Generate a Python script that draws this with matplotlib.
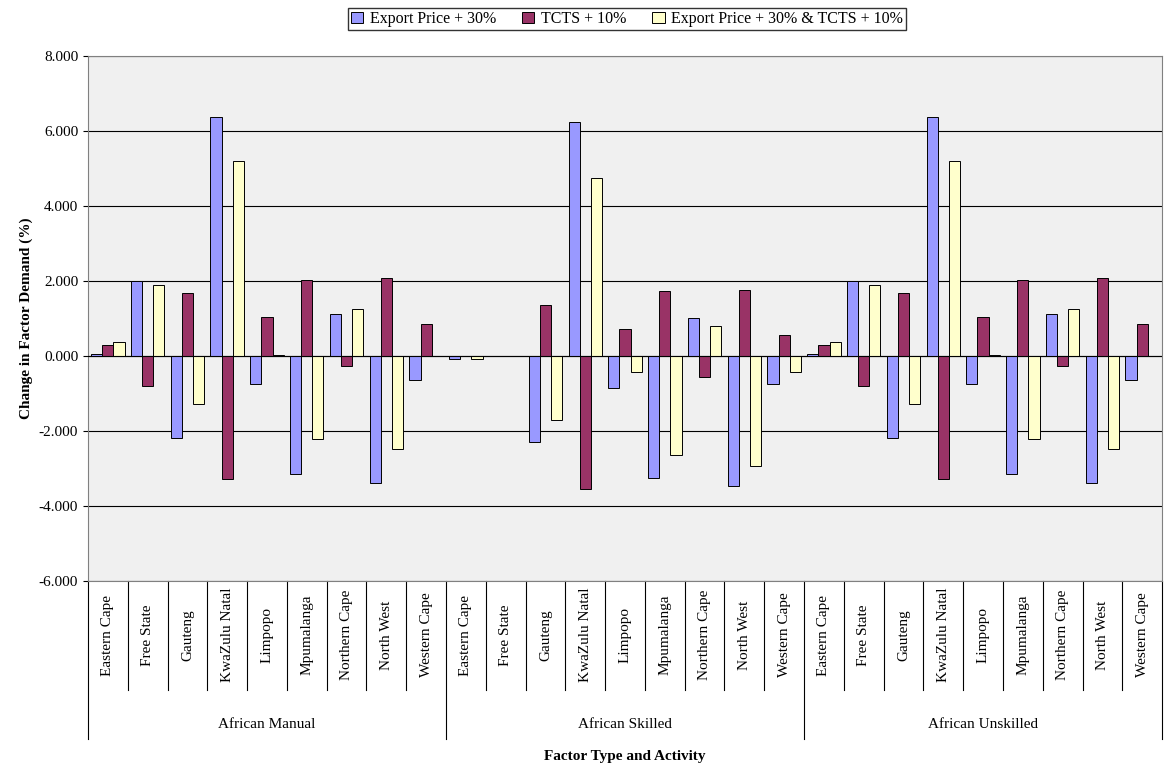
import numpy as np
import matplotlib
matplotlib.use('Agg')
import matplotlib.pyplot as plt
from matplotlib.ticker import FormatStrFormatter

plt.rcParams['font.family'] = ['Liberation Serif', 'DejaVu Serif']

provinces = ['Eastern Cape', 'Free State', 'Gauteng', 'KwaZulu Natal', 'Limpopo',
             'Mpumalanga', 'Northern Cape', 'North West', 'Western Cape']
groups = ['African Manual', 'African Skilled', 'African Unskilled']

ep_manual = [0.05, 2.00, -2.18, 6.37, -0.75, -3.15, 1.13, -3.38, -0.63]
tc_manual = [0.30, -0.80, 1.67, -3.27, 1.03, 2.02, -0.27, 2.07, 0.85]
both_manual = [0.37, 1.88, -1.28, 5.20, 0.03, -2.22, 1.25, -2.48, 0.00]

ep_skilled = [-0.08, 0.0, -2.30, 6.25, -0.85, -3.25, 1.02, -3.47, -0.75]
tc_skilled = [0.0, 0.0, 1.37, -3.55, 0.72, 1.72, -0.57, 1.77, 0.55]
both_skilled = [-0.08, 0.0, -1.72, 4.75, -0.42, -2.65, 0.80, -2.93, -0.43]

ep_unskilled = [0.05, 2.00, -2.18, 6.37, -0.75, -3.15, 1.13, -3.38, -0.63]
tc_unskilled = [0.30, -0.80, 1.67, -3.27, 1.03, 2.02, -0.27, 2.07, 0.85]
both_unskilled = [0.37, 1.88, -1.28, 5.20, 0.03, -2.22, 1.25, -2.48, 0.00]

ep = ep_manual + ep_skilled + ep_unskilled
tc = tc_manual + tc_skilled + tc_unskilled
both = both_manual + both_skilled + both_unskilled
labels = provinces * 3

fig = plt.figure(figsize=(11.65, 7.66), dpi=100)
ax = fig.add_axes([0.0755, 0.2415, 0.922, 0.6855])
ax.set_facecolor('#F0F0F0')

x = np.arange(len(labels))
w = 0.28
ax.bar(x - w, ep, w, color='#9999FF', edgecolor='black', linewidth=0.7, label='Export Price + 30%', zorder=3)
ax.bar(x, tc, w, color='#993366', edgecolor='black', linewidth=0.7, label='TCTS + 10%', zorder=3)
ax.bar(x + w, both, w, color='#FFFFCC', edgecolor='black', linewidth=0.7, label='Export Price + 30% & TCTS + 10%', zorder=3)

ax.set_xlim(-0.5, len(labels) - 0.5)
ax.set_ylim(-6, 8)
ax.set_yticks(np.arange(-6, 9, 2))
ax.yaxis.set_major_formatter(FormatStrFormatter('%.3f'))
ax.grid(axis='y', color='black', linewidth=0.8, zorder=0)
ax.axhline(0, color='black', linewidth=0.8, zorder=4)
ax.set_xticks([])
ax.tick_params(axis='y', labelsize=11)
for s in ax.spines.values():
    s.set_color('#808080')

trans = ax.get_xaxis_transform()
for i in range(len(labels) + 1):
    y1 = -0.30 if i % 9 == 0 else -0.208
    ax.plot([i - 0.5, i - 0.5], [0, y1], color='black', linewidth=0.8, transform=trans, clip_on=False)
for i, lab in enumerate(labels):
    ax.text(i, -0.103, lab, rotation=90, ha='center', va='center', fontsize=11, transform=trans)
for g, name in enumerate(groups):
    ax.text(g * 9 + 4, -0.274, name, ha='center', va='center', fontsize=11, transform=trans)
ax.text(0.5, -0.335, 'Factor Type and Activity', ha='center', va='center',
        fontsize=11, fontweight='bold', transform=ax.transAxes)
ax.set_ylabel('Change in Factor Demand (%)', fontsize=11, fontweight='bold')

leg = fig.legend(loc='upper center', bbox_to_anchor=(0.538, 1.0), ncol=3, fontsize=11.5,
                 frameon=True, fancybox=False, edgecolor='black', handlelength=0.8,
                 handletextpad=0.4, columnspacing=1.6, borderpad=0.2)

fig.savefig('out.png', dpi=100)
